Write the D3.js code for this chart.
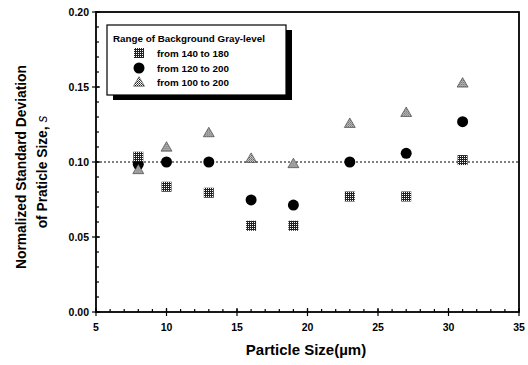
<!DOCTYPE html>
<html>
<head>
<meta charset="utf-8">
<script src="https://cdn.jsdelivr.net/npm/d3@7"></script>
<style>
  body { margin: 0; background: #fff; }
  svg { display: block; font-family: "Liberation Sans", Arial, sans-serif; }
</style>
</head>
<body>
<svg id="chart" width="528" height="365"></svg>
<script>
// particle sizes (um)
const sizes = [8, 10, 13, 16, 19, 23, 27, 31];
// normalized std deviation for each gray-level range
const range140to180 = [0.1035, 0.0835, 0.0795, 0.0575, 0.0575, 0.0770, 0.0770, 0.1013];
const range120to200 = [0.0985, 0.1000, 0.1000, 0.0747, 0.0713, 0.1000, 0.1058, 0.1269];
const range100to200 = [0.0950, 0.1100, 0.1196, 0.1025, 0.0990, 0.1258, 0.1331, 0.1527];
const seriesNames = ["from 140 to 180", "from 120 to 200", "from 100 to 200"];
const xTicks = [5, 10, 15, 20, 25, 30, 35];
const yTicks = [0, 0.05, 0.10, 0.15, 0.20];
const refLine = 0.10;

const svg = d3.select("#chart");
const mLeft = 96, mRight = 519, mTop = 12, mBottom = 312;

const x = d3.scaleLinear().domain([5, 35]).range([mLeft, mRight]);
const y = d3.scaleLinear().domain([0, 0.2]).range([mBottom, mTop]);

// hatch patterns
const defs = svg.append("defs");
const pSq = defs.append("pattern").attr("id", "sq").attr("width", 2).attr("height", 2)
    .attr("patternUnits", "userSpaceOnUse");
pSq.append("rect").attr("width", 2).attr("height", 2).attr("fill", "#222");
pSq.append("rect").attr("width", 1).attr("height", 1).attr("fill", "#fff");
const pTri = defs.append("pattern").attr("id", "tri").attr("width", 2).attr("height", 2)
    .attr("patternUnits", "userSpaceOnUse");
pTri.append("rect").attr("width", 2).attr("height", 2).attr("fill", "#fff");
pTri.append("rect").attr("width", 1).attr("height", 1).attr("fill", "#222");
pTri.append("rect").attr("x", 1).attr("y", 1).attr("width", 1).attr("height", 1).attr("fill", "#555");

// frame
svg.append("rect")
    .attr("x", mLeft).attr("y", mTop)
    .attr("width", mRight - mLeft).attr("height", mBottom - mTop)
    .attr("fill", "none").attr("stroke", "#000").attr("stroke-width", 1.8);

// y ticks
const g = svg.append("g").attr("stroke", "#000");
g.selectAll(".ymin").data(d3.range(0, 0.2001, 0.01)).join("line")
    .attr("x1", mLeft).attr("x2", mLeft + 3)
    .attr("y1", d => y(d)).attr("y2", d => y(d)).attr("stroke-width", 1.2);
g.selectAll(".ymaj").data(yTicks).join("line")
    .attr("x1", mLeft - 4).attr("x2", mLeft + 4)
    .attr("y1", d => y(d)).attr("y2", d => y(d)).attr("stroke-width", 1.2);
// x ticks
g.selectAll(".xmin").data(d3.range(5, 35.01, 1)).join("line")
    .attr("x1", d => x(d)).attr("x2", d => x(d))
    .attr("y1", mBottom).attr("y2", mBottom - 3).attr("stroke-width", 1.2);
g.selectAll(".xmaj").data(xTicks).join("line")
    .attr("x1", d => x(d)).attr("x2", d => x(d))
    .attr("y1", mBottom + 4).attr("y2", mBottom - 4).attr("stroke-width", 1.2);

svg.append("g").attr("font-size", 10.5).attr("font-weight", "bold").attr("text-anchor", "end")
    .selectAll("text").data(yTicks).join("text")
    .attr("x", mLeft - 7).attr("y", d => y(d) + 4)
    .text(d => d.toFixed(2));
svg.append("g").attr("font-size", 10.5).attr("font-weight", "bold").attr("text-anchor", "middle")
    .selectAll("text").data(xTicks).join("text")
    .attr("x", d => x(d)).attr("y", mBottom + 19)
    .text(d => d);

// axis titles
svg.append("text").attr("x", 306).attr("y", 355)
    .attr("text-anchor", "middle").attr("font-size", 15).attr("font-weight", "bold")
    .text("Particle Size(\u00b5m)");
const yl = svg.append("g").attr("transform", "translate(26,167) rotate(-90)")
    .attr("text-anchor", "middle").attr("font-size", 13.8).attr("font-weight", "bold");
yl.append("text").attr("y", 0).text("Normalized Standard Deviation");
const l2 = yl.append("text").attr("x", -5).attr("y", 21);
l2.append("tspan").text("of Praticle Size, ");
l2.append("tspan").attr("font-style", "italic").attr("font-weight", "normal").text("s");

// reference line
svg.append("line")
    .attr("x1", mLeft).attr("x2", mRight)
    .attr("y1", y(refLine)).attr("y2", y(refLine))
    .attr("stroke", "#000").attr("stroke-width", 1).attr("stroke-dasharray", "2,2");

// markers
const tri = d3.symbol().type(d3.symbolTriangle).size(52);
function drawSquare(sel, cx, cy) {
    sel.append("rect").attr("x", cx - 5).attr("y", cy - 5).attr("width", 10).attr("height", 10)
        .attr("fill", "url(#sq)");
}
function drawCircle(sel, cx, cy) {
    sel.append("circle").attr("cx", cx).attr("cy", cy).attr("r", 5.5).attr("fill", "#000");
}
function drawTri(sel, cx, cy) {
    sel.append("path").attr("d", tri()).attr("transform", `translate(${cx},${cy + 1})`)
        .attr("fill", "url(#tri)").attr("stroke", "#333").attr("stroke-width", 0.6);
}
const marks = svg.append("g");
sizes.forEach((s, i) => drawCircle(marks, x(s), y(range120to200[i])));
sizes.forEach((s, i) => drawSquare(marks, x(s), y(range140to180[i])));
sizes.forEach((s, i) => drawTri(marks, x(s), y(range100to200[i])));

// legend
const lg = svg.append("g");
lg.append("rect").attr("x", 113).attr("y", 30).attr("width", 179).attr("height", 70).attr("fill", "#000");
lg.append("rect").attr("x", 107).attr("y", 25).attr("width", 179).attr("height", 70)
    .attr("fill", "#fff").attr("stroke", "#000").attr("stroke-width", 1.2);
lg.append("text").attr("x", 113).attr("y", 42).attr("font-size", 9.8).attr("font-weight", "bold")
    .text("Range of Background Gray-level");
const rowsY = [53, 68, 82];
drawSquare(lg, 139, rowsY[0]);
drawCircle(lg, 139, rowsY[1]);
drawTri(lg, 139, rowsY[2]);
lg.selectAll(".lt").data(seriesNames).join("text")
    .attr("x", 157).attr("y", (d, i) => rowsY[i] + 3.5)
    .attr("font-size", 9.8).attr("font-weight", "bold")
    .text(d => d);
</script>
</body>
</html>
